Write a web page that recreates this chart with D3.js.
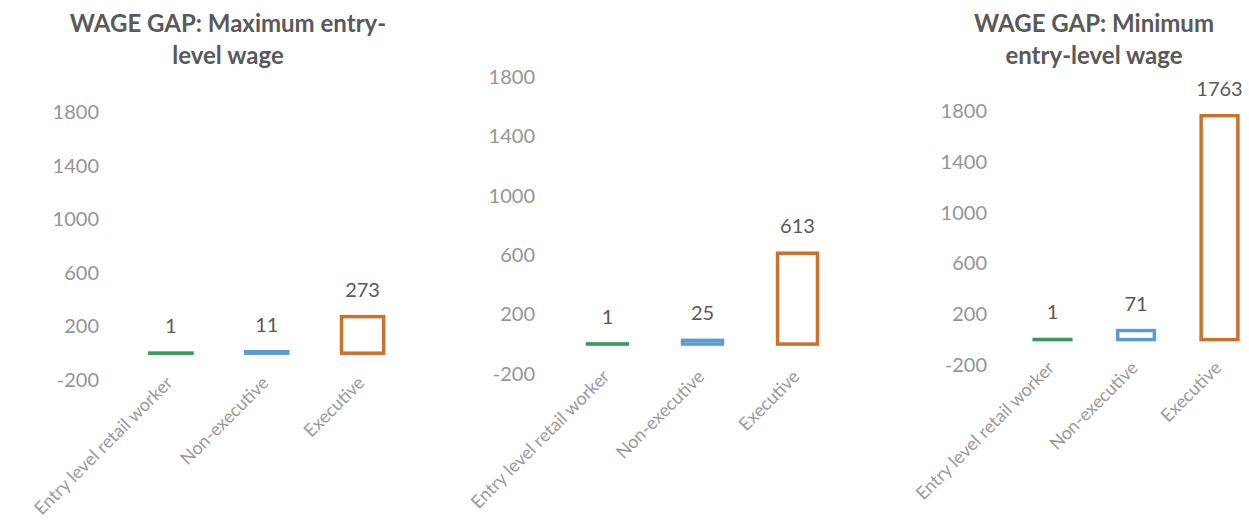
<!DOCTYPE html>
<html>
<head>
<meta charset="utf-8">
<script src="https://cdn.jsdelivr.net/npm/d3@7"></script>
<style>
  html, body { margin: 0; padding: 0; background: #ffffff; }
  svg { display: block; }
</style>
</head>
<body>
<svg id="chart" width="1249" height="524"></svg>
<script>
// ---- data ----
const categories = ["Entry level retail worker", "Non-executive", "Executive"];
const maxEntryGap = [1, 11, 273];
const middleGap = [1, 25, 613];
const minEntryGap = [1, 71, 1763];
const yTicks = [-200, 200, 600, 1000, 1400, 1800];
const yDomain = [-200, 1800];
const titleMax = ["WAGE GAP: Maximum entry-", "level wage"];
const titleMin = ["WAGE GAP: Minimum", "entry-level wage"];
const barColors = ["#3A9A5C", "#5B9BD5", "#C9712E"];

// ---- layout (positions only) ----
const panels = [
  { values: maxEntryGap, title: titleMax, titleX: 228,
    axisX: 99, yRange: [380, 112], xRange: [123, 410.5], pad: 0.56 },
  { values: middleGap, title: null, titleX: 0,
    axisX: 535, yRange: [373.7, 77.3], xRange: [560, 845], pad: 0.58 },
  { values: minEntryGap, title: titleMin, titleX: 1094,
    axisX: 987, yRange: [365, 111], xRange: [1010.75, 1261.25], pad: 0.56 }
];

const FONT = "Lato, 'Open Sans', sans-serif";
const svg = d3.select("#chart");

panels.forEach(p => {
  const g = svg.append("g");
  const y = d3.scaleLinear().domain(yDomain).range(p.yRange);
  const x = d3.scaleBand().domain(categories).range(p.xRange)
    .paddingInner(p.pad).paddingOuter(p.pad / 2);

  // title
  if (p.title) {
    g.append("text")
      .attr("x", p.titleX).attr("y", 32)
      .attr("text-anchor", "middle")
      .attr("font-family", FONT).attr("font-weight", "bold")
      .attr("font-size", 24).attr("fill", "#595959")
      .selectAll("tspan").data(p.title).join("tspan")
      .attr("x", p.titleX).attr("dy", (d, i) => i === 0 ? 0 : 32)
      .text(d => d);
  }

  // y axis
  const yAxis = d3.axisLeft(y).tickValues(yTicks).tickSize(0).tickPadding(0)
    .tickFormat(d => String(d));
  const ya = g.append("g").attr("transform", `translate(${p.axisX},0)`).call(yAxis);
  ya.select(".domain").remove();
  ya.selectAll("text")
    .attr("font-family", FONT).attr("font-size", 20).attr("fill", "#959595");

  // x axis (labels only, rotated)
  const xAxis = d3.axisBottom(x).tickSize(0).tickPadding(0);
  const xa = g.append("g").attr("transform", `translate(0,${p.yRange[0] + 2})`).call(xAxis);
  xa.select(".domain").remove();
  xa.selectAll("text")
    .attr("font-family", FONT).attr("font-size", 18).attr("fill", "#9a9a9a")
    .attr("text-anchor", "end")
    .attr("dy", null).attr("y", 0)
    .attr("transform", "translate(3,2) rotate(-45)");

  // bars (outlined)
  g.selectAll("rect.bar").data(categories).join("rect")
    .attr("class", "bar")
    .attr("x", d => x(d))
    .attr("width", x.bandwidth())
    .attr("y", (d, i) => y(Math.max(0, p.values[i])))
    .attr("height", (d, i) => Math.abs(y(p.values[i]) - y(0)))
    .attr("fill", "none")
    .attr("stroke", (d, i) => barColors[i])
    .attr("stroke-width", 3.5);

  // value labels
  g.selectAll("text.val").data(categories).join("text")
    .attr("class", "val")
    .attr("x", d => x(d) + x.bandwidth() / 2)
    .attr("y", (d, i) => y(p.values[i]) - 20)
    .attr("text-anchor", "middle")
    .attr("font-family", FONT).attr("font-size", 20).attr("fill", "#595959")
    .text((d, i) => p.values[i]);
});
</script>
</body>
</html>
